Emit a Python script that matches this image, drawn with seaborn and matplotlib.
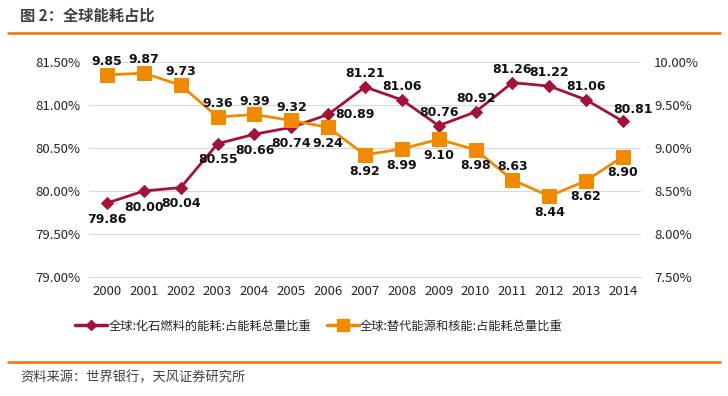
import matplotlib
matplotlib.use('Agg')
import matplotlib.pyplot as plt
import matplotlib.lines as mlines
import numpy as np
import pandas as pd
import seaborn as sns

years = ['2000', '2001', '2002', '2003', '2004', '2005', '2006', '2007',
         '2008', '2009', '2010', '2011', '2012', '2013', '2014']
fossil = [79.86, 80.00, 80.04, 80.55, 80.66, 80.74, 80.89, 81.21,
          81.06, 80.76, 80.92, 81.26, 81.22, 81.06, 80.81]
altern = [9.85, 9.87, 9.73, 9.36, 9.39, 9.32, 9.24, 8.92,
          8.99, 9.10, 8.98, 8.63, 8.44, 8.62, 8.90]
# label placement: 'b' below, 'a' above, 'r' right
fossil_pos = ['b', 'b', 'b', 'b', 'b', 'b', 'r', 'a', 'a', 'a', 'a', 'a', 'a', 'a', 'ar']
altern_pos = ['a', 'a', 'a', 'a', 'a', 'a', 'b', 'b', 'b', 'b', 'b', 'a', 'b', 'b', 'b']

name_fossil = '全球:化石燃料的能耗:占能耗总量比重'
name_altern = '全球:替代能源和核能:占能耗总量比重'

sns.set_style('white')
plt.rcParams['font.family'] = ['Noto Sans CJK SC', 'DejaVu Sans']

RED = '#A3123A'
ORANGE = '#F08A00'

df = pd.DataFrame({'year': years, 'x': np.arange(len(years)),
                   'fossil': fossil, 'altern': altern})

fig = plt.figure(figsize=(7.28, 3.96), dpi=100)
ax = fig.add_axes([88.6 / 728, 1 - 277 / 396, (641.4 - 88.6) / 728, (277 - 62) / 396])
ax2 = ax.twinx()

sns.lineplot(data=df, x='x', y='fossil', ax=ax, color=RED, lw=2,
             marker='D', markersize=6, markeredgecolor=RED)
sns.lineplot(data=df, x='x', y='altern', ax=ax2, color=ORANGE, lw=2,
             marker='s', markersize=10, markeredgecolor=ORANGE)

ax.set_ylim(79.0, 81.5)
ax2.set_ylim(7.5, 10.0)
ax.set_xlim(-0.5, len(years) - 0.5)
ax.set_yticks(np.arange(79.0, 81.51, 0.5))
ax2.set_yticks(np.arange(7.5, 10.01, 0.5))
ax.set_yticklabels([f'{v:.2f}%' for v in np.arange(79.0, 81.51, 0.5)], fontsize=9.5)
ax2.set_yticklabels([f'{v:.2f}%' for v in np.arange(7.5, 10.01, 0.5)], fontsize=9.5)
ax.set_xticks(df['x'])
ax.set_xticklabels(years, fontsize=9.5)
ax.set_xlabel('')
ax.set_ylabel('')
ax2.set_ylabel('')
ax.grid(axis='y', color='#d9d9d9', lw=0.8)
ax.set_axisbelow(True)
ax.tick_params(axis='both', length=0, pad=6)
ax2.tick_params(axis='both', length=0, pad=9)
for a in (ax, ax2):
    for s in a.spines.values():
        s.set_visible(False)
ax.spines['bottom'].set_visible(True)
ax.spines['bottom'].set_color('#d9d9d9')

def label(a, x, y, pos):
    offs = {'a': (0, 5, 'center', 'bottom'), 'b': (0, -7, 'center', 'top'),
            'r': (5, 0, 'left', 'center'), 'ar': (-7, 4, 'left', 'bottom')}
    dx, dy, ha, va = offs[pos]
    a.annotate(f'{y:.2f}', (x, y), xytext=(dx, dy), textcoords='offset points',
               ha=ha, va=va, fontsize=9, fontweight='bold', color='#111111',
               family='DejaVu Sans')

for i in range(len(years)):
    label(ax, i, fossil[i], fossil_pos[i])
    label(ax2, i, altern[i], altern_pos[i])

h1 = mlines.Line2D([], [], color=RED, lw=2.5, marker='D', markersize=5)
h2 = mlines.Line2D([], [], color=ORANGE, lw=2.5, marker='s', markersize=8)
fig.legend([h1, h2], [name_fossil, name_altern], loc='center',
           bbox_to_anchor=(319 / 728, 1 - 326 / 396), ncol=2, frameon=False,
           fontsize=8.8, handlelength=2.6, columnspacing=1.3, handletextpad=0.1)

fig.text(20 / 728, 1 - 16 / 396, '图 2：全球能耗占比', fontsize=11, fontweight='bold',
         color='#404040', va='center', ha='left')
fig.add_artist(mlines.Line2D([8 / 728, 720 / 728], [1 - 33 / 396] * 2, color='#EE7D22', lw=2))
fig.add_artist(mlines.Line2D([8 / 728, 720 / 728], [1 - 362 / 396] * 2, color='#EE7D22', lw=2))
fig.text(20 / 728, 1 - 378 / 396, '资料来源：世界银行，天风证券研究所', fontsize=9.5,
         color='#404040', va='center', ha='left')

fig.savefig('out.png', dpi=100)
